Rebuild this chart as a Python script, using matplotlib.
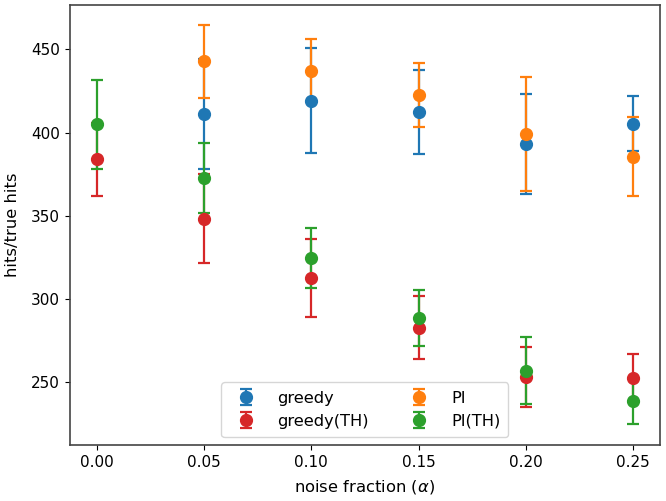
import matplotlib
matplotlib.use("Agg")
import matplotlib.pyplot as plt

noise = [0.00, 0.05, 0.10, 0.15, 0.20, 0.25]

greedy_mean = [None, 411.4, 419.2, 412.4, 393.2, 405.4]
greedy_err = [None, 33.0, 31.5, 25.3, 30.0, 16.4]

pi_mean = [None, 442.8, 437.2, 422.6, 399.3, 385.5]
pi_err = [None, 22.0, 18.8, 19.4, 34.2, 23.7]

pith_mean = [405.0, 372.8, 324.6, 288.7, 257.1, 238.9]
pith_err = [26.7, 21.0, 18.0, 16.8, 20.2, 14.0]

greedyth_mean = [384.0, 348.3, 312.5, 282.9, 253.3, 252.7]
greedyth_err = [22.0, 26.7, 23.5, 18.8, 18.2, 14.6]

labels = ["greedy", "greedy(TH)", "PI", "PI(TH)"]
colors = ["#1f77b4", "#d62728", "#ff7f0e", "#2ca02c"]

plt.rcParams["font.size"] = 11

fig = plt.figure(figsize=(6.66, 5.01), dpi=100)
ax = fig.add_axes([0.105, 0.112, 0.886, 0.878])


def series(xs, ms, es):
    pts = [(x, m, e) for x, m, e in zip(xs, ms, es) if m is not None]
    return [p[0] for p in pts], [p[1] for p in pts], [p[2] for p in pts]


data = [
    (greedy_mean, greedy_err),
    (greedyth_mean, greedyth_err),
    (pi_mean, pi_err),
    (pith_mean, pith_err),
]
order = [0, 2, 1, 3]
handles = {}
for i in order:
    m, e = data[i]
    x, y, err = series(noise, m, e)
    h = ax.errorbar(x, y, yerr=err, fmt="o", color=colors[i], markersize=8.5,
                    capsize=4, elinewidth=1.6, capthick=1.6, label=labels[i])
    handles[i] = h

ax.set_xlabel(r"noise fraction ($\alpha$)", fontsize=11.8, labelpad=6)
ax.set_ylabel("hits/true hits", fontsize=11.8, labelpad=8)
ax.set_xticks(noise)
ax.set_xticklabels(["0.00", "0.05", "0.10", "0.15", "0.20", "0.25"])
ax.set_yticks([250, 300, 350, 400, 450])
ax.tick_params(labelsize=11)
ax.set_ylim(212.5, 476.6)
ax.set_xlim(-0.0125, 0.2625)
for s in ax.spines.values():
    s.set_color("#444444")
    s.set_linewidth(1.2)

ax.legend([handles[i] for i in range(4)], labels, loc="lower center", ncol=2,
          fontsize=11.7, handletextpad=0.95, columnspacing=2.1,
          borderaxespad=0.5, borderpad=0.5)

fig.savefig("out.png", dpi=100)
